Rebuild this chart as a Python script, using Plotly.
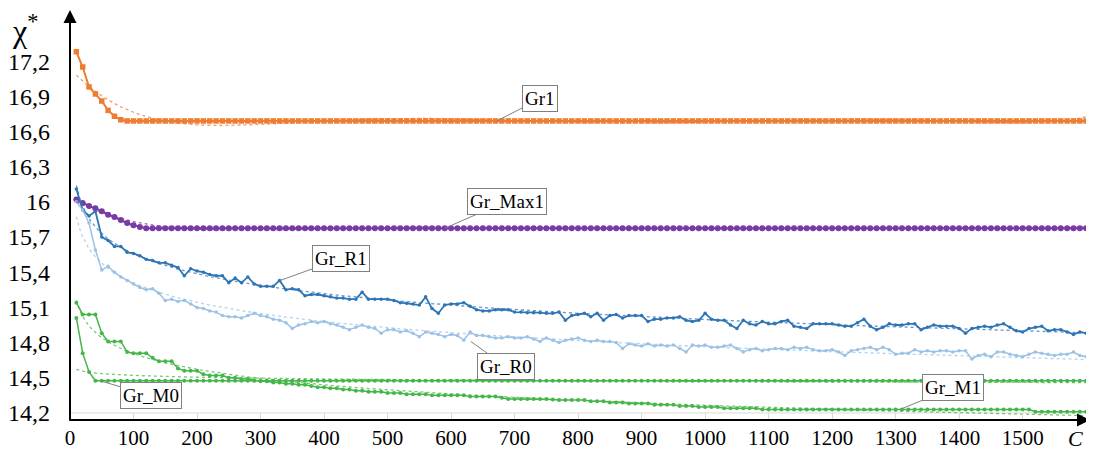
import numpy as np
import plotly.graph_objects as go

# ---------------- data ----------------
C_VALUES = list(range(10, 1610, 10))

GR1 = [
    17.28, 17.15, 16.98, 16.92, 16.86, 16.78, 16.73, 16.70, 16.69, 16.69,
    16.69, 16.69, 16.69, 16.69, 16.69, 16.69, 16.69, 16.69, 16.69, 16.69,
    16.69, 16.69, 16.69, 16.69, 16.69, 16.69, 16.69, 16.69, 16.69, 16.69,
    16.69, 16.69, 16.69, 16.69, 16.69, 16.69, 16.69, 16.69, 16.69, 16.69,
    16.69, 16.69, 16.69, 16.69, 16.69, 16.69, 16.69, 16.69, 16.69, 16.69,
    16.69, 16.69, 16.69, 16.69, 16.69, 16.69, 16.69, 16.69, 16.69, 16.69,
    16.69, 16.69, 16.69, 16.69, 16.69, 16.69, 16.69, 16.69, 16.69, 16.69,
    16.69, 16.69, 16.69, 16.69, 16.69, 16.69, 16.69, 16.69, 16.69, 16.69,
    16.69, 16.69, 16.69, 16.69, 16.69, 16.69, 16.69, 16.69, 16.69, 16.69,
    16.69, 16.69, 16.69, 16.69, 16.69, 16.69, 16.69, 16.69, 16.69, 16.69,
    16.69, 16.69, 16.69, 16.69, 16.69, 16.69, 16.69, 16.69, 16.69, 16.69,
    16.69, 16.69, 16.69, 16.69, 16.69, 16.69, 16.69, 16.69, 16.69, 16.69,
    16.69, 16.69, 16.69, 16.69, 16.69, 16.69, 16.69, 16.69, 16.69, 16.69,
    16.69, 16.69, 16.69, 16.69, 16.69, 16.69, 16.69, 16.69, 16.69, 16.69,
    16.69, 16.69, 16.69, 16.69, 16.69, 16.69, 16.69, 16.69, 16.69, 16.69,
    16.69, 16.69, 16.69, 16.69, 16.69, 16.69, 16.69, 16.69, 16.69, 16.69,
]

GR_MAX1 = [
    16.02, 15.99, 15.965, 15.945, 15.92, 15.89, 15.87, 15.845, 15.82, 15.80,
    15.785, 15.776, 15.775, 15.775, 15.775, 15.775, 15.775, 15.775, 15.775, 15.775,
    15.775, 15.775, 15.775, 15.775, 15.775, 15.775, 15.775, 15.775, 15.775, 15.775,
    15.775, 15.775, 15.775, 15.775, 15.775, 15.775, 15.775, 15.775, 15.775, 15.775,
    15.775, 15.775, 15.775, 15.775, 15.775, 15.775, 15.775, 15.775, 15.775, 15.775,
    15.775, 15.775, 15.775, 15.775, 15.775, 15.775, 15.775, 15.775, 15.775, 15.775,
    15.775, 15.775, 15.775, 15.775, 15.775, 15.775, 15.775, 15.775, 15.775, 15.775,
    15.775, 15.775, 15.775, 15.775, 15.775, 15.775, 15.775, 15.775, 15.775, 15.775,
    15.775, 15.775, 15.775, 15.775, 15.775, 15.775, 15.775, 15.775, 15.775, 15.775,
    15.775, 15.775, 15.775, 15.775, 15.775, 15.775, 15.775, 15.775, 15.775, 15.775,
    15.775, 15.775, 15.775, 15.775, 15.775, 15.775, 15.775, 15.775, 15.775, 15.775,
    15.775, 15.775, 15.775, 15.775, 15.775, 15.775, 15.775, 15.775, 15.775, 15.775,
    15.775, 15.775, 15.775, 15.775, 15.775, 15.775, 15.775, 15.775, 15.775, 15.775,
    15.775, 15.775, 15.775, 15.775, 15.775, 15.775, 15.775, 15.775, 15.775, 15.775,
    15.775, 15.775, 15.775, 15.775, 15.775, 15.775, 15.775, 15.775, 15.775, 15.775,
    15.775, 15.775, 15.775, 15.775, 15.775, 15.775, 15.775, 15.775, 15.775, 15.775,
]

GR_R1 = [
    16.11, 15.93, 15.88, 15.92, 15.70, 15.67, 15.62, 15.62, 15.57, 15.56,
    15.54, 15.51, 15.50, 15.48, 15.48, 15.46, 15.44, 15.37, 15.43, 15.41,
    15.40, 15.38, 15.37, 15.37, 15.31, 15.35, 15.31, 15.36, 15.30, 15.28,
    15.28, 15.28, 15.33, 15.25, 15.26, 15.25, 15.20, 15.21, 15.21, 15.20,
    15.19, 15.18, 15.18, 15.17, 15.17, 15.23, 15.17, 15.17, 15.17, 15.17,
    15.16, 15.14, 15.135, 15.13, 15.12, 15.19, 15.09, 15.05, 15.12, 15.13,
    15.13, 15.14, 15.11, 15.08, 15.07, 15.07, 15.08, 15.08, 15.08, 15.06,
    15.06, 15.055, 15.055, 15.055, 15.05, 15.05, 15.06, 14.99, 15.03, 15.04,
    15.05, 15.02, 15.05, 14.99, 15.03, 15.04, 15.01, 15.03, 15.03, 15.03,
    14.98, 15.00, 15.00, 15.01, 15.01, 15.02, 14.99, 14.98, 14.99, 15.05,
    15.00, 14.99, 14.99, 14.95, 14.92, 14.99, 14.96, 14.95, 14.98, 14.96,
    14.96, 14.98, 14.99, 14.94, 14.93, 14.92, 14.96, 14.96, 14.96, 14.96,
    14.95, 14.94, 14.94, 14.97, 15.00, 14.94, 14.91, 14.93, 14.96, 14.95,
    14.95, 14.96, 14.96, 14.91, 14.93, 14.95, 14.94, 14.94, 14.94, 14.92,
    14.88, 14.92, 14.93, 14.94, 14.93, 14.95, 14.96, 14.93, 14.90, 14.89,
    14.92, 14.93, 14.94, 14.90, 14.91, 14.91, 14.89, 14.87, 14.89, 14.88,
]

GR_R0 = [
    16.00, 15.93, 15.82, 15.59, 15.42, 15.45, 15.40, 15.36, 15.33, 15.30,
    15.27, 15.25, 15.26, 15.22, 15.16, 15.17, 15.15, 15.16, 15.13, 15.10,
    15.09, 15.07, 15.06, 15.03, 15.02, 15.02, 15.01, 15.03, 15.05, 15.03,
    15.02, 15.00, 14.99, 14.97, 14.92, 14.95, 14.96, 14.98, 14.97, 14.98,
    14.96, 14.95, 14.93, 14.91, 14.93, 14.95, 14.93, 14.92, 14.88, 14.91,
    14.91, 14.89, 14.90, 14.88, 14.85, 14.89, 14.88, 14.87, 14.85, 14.87,
    14.86, 14.82, 14.89, 14.86, 14.86, 14.85, 14.84, 14.84, 14.85, 14.84,
    14.84, 14.85, 14.83, 14.81, 14.84, 14.82, 14.80, 14.82, 14.83, 14.84,
    14.82, 14.81, 14.82, 14.81, 14.81, 14.80, 14.75, 14.79, 14.78, 14.77,
    14.79, 14.77, 14.78, 14.77, 14.78, 14.75, 14.72, 14.78, 14.77, 14.78,
    14.76, 14.76, 14.77, 14.78, 14.75, 14.72, 14.74, 14.75, 14.73, 14.74,
    14.75, 14.75, 14.74, 14.76, 14.75, 14.76, 14.74, 14.73, 14.73, 14.74,
    14.72, 14.69, 14.73, 14.74, 14.75, 14.76, 14.74, 14.76, 14.74, 14.70,
    14.71, 14.71, 14.74, 14.72, 14.73, 14.72, 14.73, 14.73, 14.72, 14.73,
    14.73, 14.66, 14.69, 14.70, 14.68, 14.72, 14.72, 14.70, 14.69, 14.68,
    14.70, 14.72, 14.71, 14.70, 14.69, 14.70, 14.70, 14.72, 14.69, 14.68,
]

GR_M1 = [
    15.14, 15.04, 15.04, 15.04, 14.88, 14.81, 14.81, 14.81, 14.72, 14.71,
    14.71, 14.71, 14.67, 14.64, 14.64, 14.64, 14.58, 14.56, 14.56, 14.56,
    14.53, 14.52, 14.52, 14.52, 14.50, 14.50, 14.49, 14.49, 14.48, 14.47,
    14.47, 14.46, 14.46, 14.45, 14.45, 14.44, 14.44, 14.43, 14.42, 14.42,
    14.41, 14.41, 14.40, 14.40, 14.39, 14.39, 14.38, 14.38, 14.38, 14.37,
    14.37, 14.37, 14.36, 14.36, 14.36, 14.36, 14.35, 14.35, 14.35, 14.35,
    14.35, 14.35, 14.34, 14.34, 14.34, 14.34, 14.34, 14.33, 14.32, 14.32,
    14.32, 14.32, 14.32, 14.32, 14.32, 14.315, 14.31, 14.31, 14.31, 14.31,
    14.31, 14.30, 14.30, 14.30, 14.29, 14.29, 14.29, 14.28, 14.28, 14.28,
    14.28, 14.27, 14.27, 14.27, 14.27, 14.26, 14.26, 14.26, 14.25, 14.25,
    14.25, 14.25, 14.24, 14.24, 14.24, 14.24, 14.24, 14.24, 14.23, 14.23,
    14.23, 14.23, 14.23, 14.23, 14.23, 14.23, 14.23, 14.23, 14.23, 14.23,
    14.23, 14.23, 14.23, 14.23, 14.23, 14.23, 14.23, 14.23, 14.23, 14.23,
    14.23, 14.23, 14.23, 14.23, 14.23, 14.23, 14.23, 14.23, 14.23, 14.23,
    14.23, 14.23, 14.23, 14.23, 14.23, 14.23, 14.23, 14.23, 14.23, 14.23,
    14.23, 14.21, 14.21, 14.21, 14.21, 14.21, 14.21, 14.21, 14.21, 14.21,
]

GR_M0 = [
    15.01, 14.71, 14.55, 14.475, 14.475, 14.475, 14.475, 14.475, 14.475, 14.475,
    14.475, 14.475, 14.475, 14.475, 14.475, 14.475, 14.475, 14.475, 14.475, 14.475,
    14.475, 14.475, 14.475, 14.475, 14.475, 14.475, 14.475, 14.475, 14.475, 14.475,
    14.475, 14.475, 14.475, 14.475, 14.475, 14.475, 14.475, 14.475, 14.475, 14.475,
    14.475, 14.475, 14.475, 14.475, 14.475, 14.475, 14.475, 14.475, 14.475, 14.475,
    14.475, 14.475, 14.475, 14.475, 14.475, 14.475, 14.475, 14.475, 14.475, 14.475,
    14.475, 14.475, 14.475, 14.475, 14.475, 14.475, 14.475, 14.475, 14.475, 14.475,
    14.475, 14.475, 14.475, 14.475, 14.475, 14.475, 14.475, 14.475, 14.475, 14.475,
    14.475, 14.475, 14.475, 14.475, 14.475, 14.475, 14.475, 14.475, 14.475, 14.475,
    14.475, 14.475, 14.475, 14.475, 14.475, 14.475, 14.475, 14.475, 14.475, 14.475,
    14.475, 14.475, 14.475, 14.475, 14.475, 14.475, 14.475, 14.475, 14.475, 14.475,
    14.475, 14.475, 14.475, 14.475, 14.475, 14.475, 14.475, 14.475, 14.475, 14.475,
    14.475, 14.475, 14.475, 14.475, 14.475, 14.475, 14.475, 14.475, 14.475, 14.475,
    14.475, 14.475, 14.475, 14.475, 14.475, 14.475, 14.475, 14.475, 14.475, 14.475,
    14.475, 14.475, 14.475, 14.475, 14.475, 14.475, 14.475, 14.475, 14.475, 14.475,
    14.475, 14.475, 14.475, 14.475, 14.475, 14.475, 14.475, 14.475, 14.475, 14.475,
]

X_TICKS = [0, 100, 200, 300, 400, 500, 600, 700, 800, 900, 1000, 1100, 1200, 1300, 1400, 1500]
Y_TICKS = [14.2, 14.5, 14.8, 15.1, 15.4, 15.7, 16.0, 16.3, 16.6, 16.9, 17.2]
Y_TICK_TEXT = ["14,2", "14,5", "14,8", "15,1", "15,4", "15,7", "16", "16,3", "16,6", "16,9", "17,2"]

# ---------------- styles ----------------
ORANGE = "#ED7D31"
PURPLE = "#7A3AA6"
DBLUE = "#2E75B6"
LBLUE = "#9BC2E6"
GREEN = "#45B649"

SERIES = [
    ("Gr1", GR1, ORANGE, "square", 5.5, 2.0, "poly"),
    ("Gr_Max1", GR_MAX1, PURPLE, "circle", 6, 2.0, "poly"),
    ("Gr_R1", GR_R1, DBLUE, "circle", 3.5, 1.8, "power"),
    ("Gr_R0", GR_R0, LBLUE, "circle", 3.5, 1.5, "power"),
    ("Gr_M0", GR_M0, GREEN, "circle", 4, 1.5, "power"),
    ("Gr_M1", GR_M1, GREEN, "circle", 4, 1.5, "power"),
]

FONT = "Liberation Serif, Times New Roman, serif"


def trend(x, y, kind):
    x = np.asarray(x, float)
    y = np.asarray(y, float)
    xs = np.linspace(x.min(), x.max(), 500)
    if kind == "power":
        b, a = np.polyfit(np.log(x), np.log(y), 1)
        return xs, np.exp(a) * xs ** b
    p = np.polynomial.Polynomial.fit(x, y, 6)
    return xs, p(xs)


fig = go.Figure()

for name, vals, color, sym, msize, lw, kind in SERIES:
    xv = C_VALUES[: len(vals)]
    fig.add_trace(go.Scatter(
        x=xv, y=vals, mode="lines+markers", name=name,
        line=dict(color=color, width=lw),
        marker=dict(color=color, symbol=sym, size=msize),
        showlegend=False,
    ))

for name, vals, color, sym, msize, lw, kind in SERIES:
    xv = C_VALUES[: len(vals)]
    tx, ty = trend(xv, vals, kind)
    fig.add_trace(go.Scatter(
        x=tx, y=ty, mode="lines", name=name + " trend",
        line=dict(color=color, width=1.3, dash="dot"),
        opacity=0.75, showlegend=False,
    ))

# callouts: label, pointer target (data units), box offset (pixels)
CALLOUTS = [
    ("Gr1", 672, 16.69, 43, -22),
    ("Gr_Max1", 590, 15.775, 62, -27),
    ("Gr_R1", 331, 15.33, 61, -22),
    ("Gr_R0", 631, 14.81, 35, 25),
    ("Gr_M0", 47, 14.475, 51, 15),
    ("Gr_M1", 1307, 14.23, 53, -22),
]

# the page body adds an 8px margin; the figure is sized so that the plot
# area lands on page pixels x 70..1090, y 10..420
BODY = 8
W, H = 1094 - BODY, 451 - BODY
ML, MR, MT, MB = 70 - BODY, 4, 10 - BODY, H - (420 - BODY)
pw, ph = W - ML - MR, H - MT - MB


def page_to_paper(px, py):
    return (px - BODY - ML) / pw, (H - MB - (py - BODY)) / ph


annotations = []
for text, x, y, ax, ay in CALLOUTS:
    annotations.append(dict(
        x=x, y=y, xref="x", yref="y", text=text, showarrow=True,
        ax=ax, ay=ay, arrowhead=0, arrowwidth=1, arrowcolor="#808080",
        bordercolor="#808080", borderwidth=1, borderpad=2, bgcolor="white",
        font=dict(family=FONT, size=19, color="black"),
    ))

# axis arrows
annotations.append(dict(x=0, y=1, xref="paper", yref="paper", text="", showarrow=True,
                        ax=0, ay=ph + 2, arrowhead=2, arrowsize=1.3, arrowwidth=2,
                        arrowcolor="black", standoff=0))
annotations.append(dict(x=1, y=0, xref="paper", yref="paper", text="", showarrow=True,
                        ax=-(pw + 2), ay=0, arrowhead=2, arrowsize=1.3, arrowwidth=2,
                        arrowcolor="black", standoff=0))
# axis titles
cx, cy = page_to_paper(25, 29)
annotations.append(dict(x=cx, y=cy, xref="paper", yref="paper", text="χ<sup>*</sup>",
                        showarrow=False, xanchor="center", yanchor="middle",
                        font=dict(family=FONT, size=32, color="black")))
cx, cy = page_to_paper(1075, 438)
annotations.append(dict(x=cx, y=cy, xref="paper", yref="paper", text="<i>C</i>",
                        showarrow=False, xanchor="center", yanchor="middle",
                        font=dict(family=FONT, size=22, color="black")))

fig.update_layout(
    width=W, height=H,
    margin=dict(l=ML, r=MR, t=MT, b=MB, autoexpand=False),
    paper_bgcolor="white", plot_bgcolor="white",
    font=dict(family=FONT, color="black"),
    annotations=annotations,
    shapes=[dict(type="line", xref="paper", yref="y", x0=0, x1=1, y0=14.2, y1=14.2,
                 line=dict(color="#D9D9D9", width=1), layer="below")],
)

fig.update_xaxes(
    range=[0, 1606], tickvals=X_TICKS, ticktext=[str(v) for v in X_TICKS],
    showgrid=False, zeroline=False, showline=False, automargin=False,
    ticks="inside", ticklen=7, tickcolor="#D9D9D9", tickwidth=1,
    ticklabelstandoff=3,
    tickfont=dict(family=FONT, size=21, color="black"),
)
fig.update_yaxes(
    range=[14.14, 17.636], tickvals=Y_TICKS, ticktext=Y_TICK_TEXT,
    showgrid=False, zeroline=False, showline=False, ticks="", automargin=False,
    ticklabelstandoff=19,
    tickfont=dict(family=FONT, size=24, color="black"),
)

fig.write_html("out.html")
